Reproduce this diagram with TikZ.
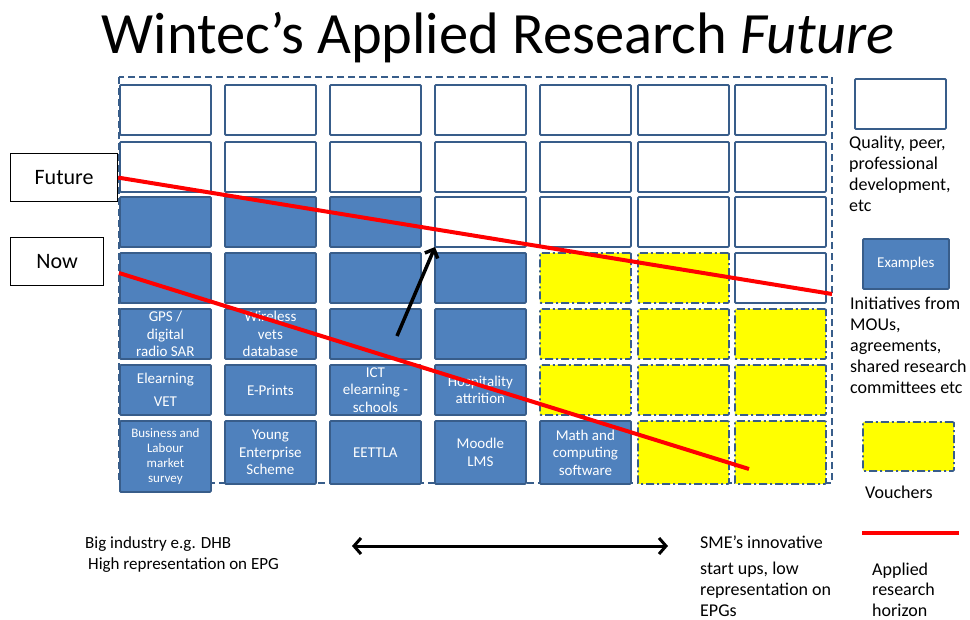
\documentclass[tikz,border=0pt]{standalone}
\usepackage{fontspec}
\setmainfont{Carlito}
\usetikzlibrary{
  positioning,
  arrows.meta,
  calc
}
\definecolor{cellborder}{RGB}{56,93,138}
\definecolor{cellblue}{RGB}{79,129,189}
\definecolor{voucheryellow}{RGB}{255,255,0}
\definecolor{horizonred}{RGB}{255,0,0}

\begin{document}
\begin{tikzpicture}[
      x=1pt, y=-1pt,
      cell/.style={
        rectangle,
        rounded corners=1pt,
        draw=cellborder,
        line width=1.8pt,
        minimum width=91pt,
        minimum height=50pt,
        anchor=north west,
        inner sep=1pt,
        align=center,
        text=white,
        font=\fontsize{15}{17.5}\selectfont
      },
      blankcell/.style={cell, fill=white},
      examplecell/.style={cell, fill=cellblue},
      vouchercell/.style={
        cell,
        fill=voucheryellow,
        dash pattern=on 8pt off 3pt on 2pt off 3pt
      },
      tallcell/.style={minimum height=63pt},
      tag/.style={
        rectangle,
        draw=black,
        line width=1.2pt,
        minimum height=48pt,
        anchor=north west,
        font=\fontsize{22}{26}\selectfont
      },
      % multi-line notes sit on the baseline of their last line
      note/.style={
        anchor=base west,
        align=left,
        inner sep=0pt,
        font=\fontsize{18}{21}\selectfont
      },
      outerframe/.style={
        draw=cellborder,
        line width=2pt,
        dash pattern=on 7pt off 4pt
      },
      horizonline/.style={
        draw=horizonred,
        line width=4pt
      },
      shiftarrow/.style={
        line width=3.5pt,
        -{Straight Barb[length=7pt,width=14pt]}
      },
      spanarrow/.style={
        line width=3pt,
        {Straight Barb[length=7pt,width=16pt]}-{Straight Barb[length=7pt,width=16pt]}
      }
    ]
    \useasboundingbox (0,0) rectangle (970,619);

    % Title
    \node[anchor=base,font=\fontsize{58.5}{62}\selectfont] (title) at (498,53)
      {Wintec’s Applied Research \textit{Future}};

    % Grid coordinates
    \foreach \x [count=\c] in {119,224,329,434,539,637,734}
      \coordinate (col\c) at (\x,0);
    \foreach \y [count=\r] in {84,141,196,252,308,364,420}
      \coordinate (row\r) at (0,\y);

    \draw[outerframe] (119,77) rectangle (832,483);

    % Rows 1-2: quality
    \foreach \r in {1,2}
      \foreach \c in {1,...,7}
        \node[blankcell] (c\r\c) at (col\c |- row\r) {};

    % Row 3
    \foreach \c in {1,2,3}
      \node[examplecell] (c3\c) at (col\c |- row3) {};
    \foreach \c in {4,...,7}
      \node[blankcell] (c3\c) at (col\c |- row3) {};

    % Row 4
    \foreach \c in {1,...,4}
      \node[examplecell] (c4\c) at (col\c |- row4) {};
    \foreach \c in {5,6}
      \node[vouchercell] (c4\c) at (col\c |- row4) {};
    \node[blankcell] (c47) at (col7 |- row4) {};

    % Row 5
    \node[examplecell] (c51) at (col1 |- row5) {GPS /\\ digital\\ radio SAR};
    \node[examplecell] (c52) at (col2 |- row5) {Wireless\\ vets\\ database};
    \node[examplecell] (c53) at (col3 |- row5) {};
    \node[examplecell] (c54) at (col4 |- row5) {};
    \foreach \c in {5,6,7}
      \node[vouchercell] (c5\c) at (col\c |- row5) {};

    % Row 6
    \node[examplecell] (c61) at (col1 |- row6) {Elearning\\[6pt] VET};
    \node[examplecell] (c62) at (col2 |- row6) {E-Prints};
    \node[examplecell] (c63) at (col3 |- row6) {ICT\\ elearning -\\ schools};
    \node[examplecell] (c64) at (col4 |- row6) {Hospitality\\ attrition};
    \foreach \c in {5,6,7}
      \node[vouchercell] (c6\c) at (col\c |- row6) {};

    % Row 7
    \node[examplecell, minimum height=71pt, font=\fontsize{13}{15}\selectfont] (c71)
      at (col1 |- row7) {Business and\\ Labour\\ market\\ survey};
    \node[examplecell, tallcell] (c72) at (col2 |- row7) {Young\\ Enterprise\\ Scheme};
    \node[examplecell, tallcell] (c73) at (col3 |- row7) {EETTLA};
    \node[examplecell, tallcell] (c74) at (col4 |- row7) {Moodle\\ LMS};
    \node[examplecell, tallcell] (c75) at (col5 |- row7) {Math and\\ computing\\ software};
    \foreach \c in {6,7}
      \node[vouchercell, tallcell] (c7\c) at (col\c |- row7) {};

    % Horizons
    \node[tag, minimum width=107pt] (future) at (10,153) {Future};
    \node[tag, minimum width=93pt] (now) at (10,237) {Now};

    \coordinate (futureend) at (832,294);
    \coordinate (nowstart) at (119,273);
    \coordinate (nowend) at (749,469);
    \draw[horizonline] (future.east) -- (futureend);
    \draw[horizonline] (nowstart) -- (nowend);

    \coordinate (shiftstart) at (397,336);
    \coordinate (shiftend) at (435,247);
    \draw[shiftarrow] (shiftstart) -- (shiftend);

    % Legend
    \node[blankcell] (keyquality) at (854,78) {};
    \node[note] (qualitytext) at (849,211)
      {Quality, peer,\\ professional\\ development,\\ etc};

    \node[examplecell, minimum width=86pt] (keyexamples) at (862,238) {Examples};
    \node[note] (initiativestext) at (850,393)
      {Initiatives from\\ MOUs,\\ agreements,\\ shared research\\ committees etc};

    \node[vouchercell, minimum height=49pt] (keyvouchers) at (862,421) {};
    \node[note] (voucherstext) at (865,498) {Vouchers};

    \coordinate (keyhorizonstart) at (862,533);
    \coordinate (keyhorizonend) at (959,533);
    \draw[horizonline] (keyhorizonstart) -- (keyhorizonend);
    \node[note, font=\fontsize{18}{20.5}\selectfont] (horizontext) at (872,616)
      {Applied\\ research\\ horizon};

    % Industry span
    \node[note, font=\fontsize{17}{21}\selectfont] (bigtext) at (85,569)
      {Big industry e.g. DHB\\ \hspace*{3pt}High representation on EPG};
    \node[note, font=\fontsize{18}{21}\selectfont] (smetext) at (700,616)
      {SME’s innovative\\[5pt] start ups, low\\ representation on\\ EPGs};

    \coordinate (spanleft) at (352,546);
    \coordinate (spanright) at (668,546);
    \draw[spanarrow] (spanleft) -- (spanright);

    \end{tikzpicture}
\end{document}
